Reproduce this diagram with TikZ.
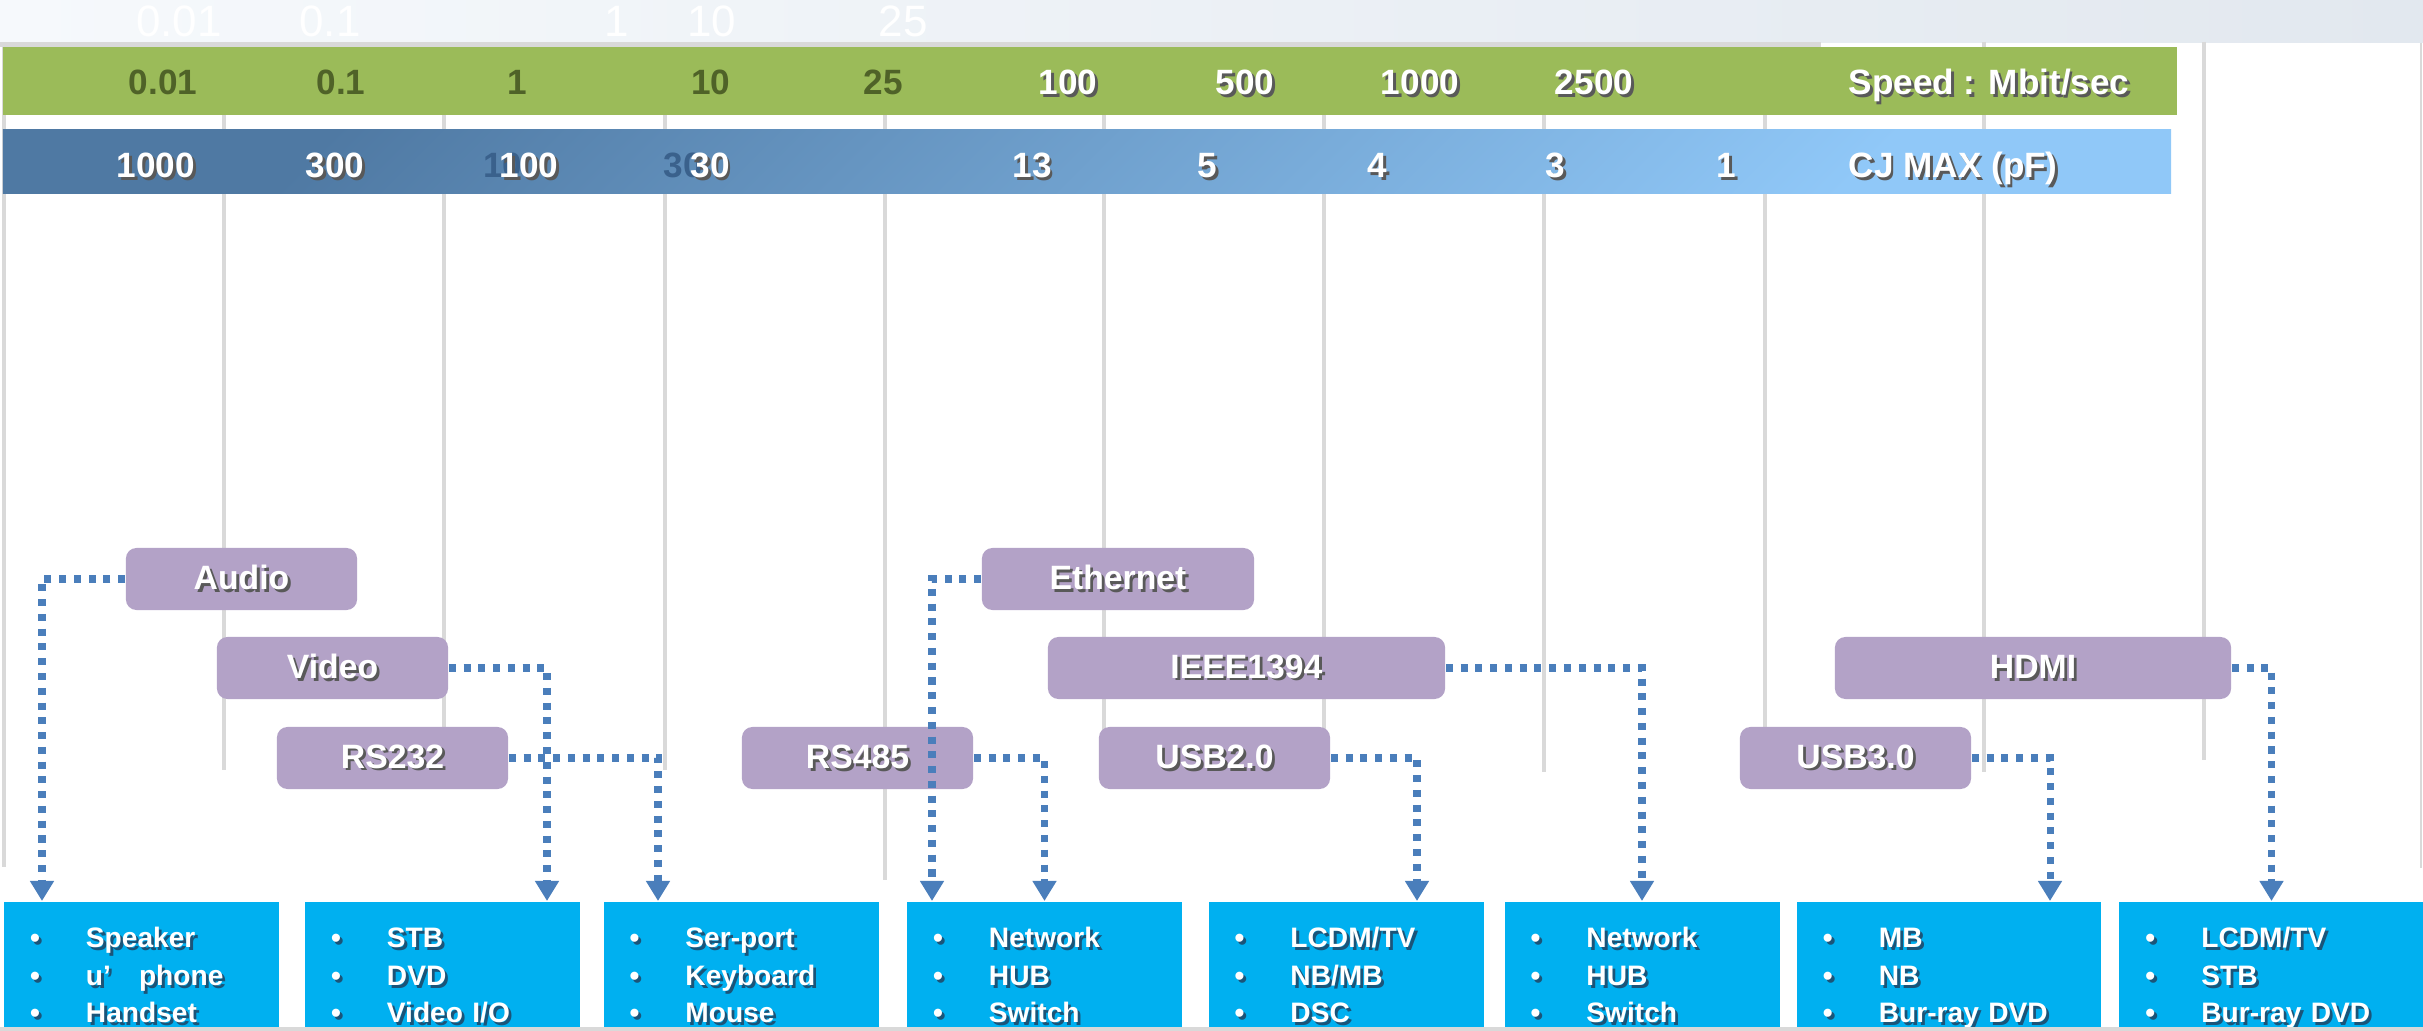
\documentclass[tikz,border=0pt]{standalone}
\usepackage{fontspec}
\setmainfont{Liberation Sans}
\usetikzlibrary{arrows.meta}

\definecolor{bandL}{HTML}{F6F9FC}
\definecolor{bandR}{HTML}{E2E8EF}
\definecolor{lineGray}{HTML}{D9D9D9}
\definecolor{barGreen}{HTML}{9BBB59}
\definecolor{barOlive}{HTML}{4F6228}
\definecolor{barBlueT}{HTML}{4F79A3}
\definecolor{barBlueB}{HTML}{90C8F8}
\definecolor{ghostBlue}{HTML}{3A618C}
\definecolor{boxPurple}{HTML}{B3A2C7}
\definecolor{boxCyan}{HTML}{00B0F0}
\definecolor{linkBlue}{HTML}{4A7EBB}
\definecolor{shadeBlue}{HTML}{1B5478}

% text with a small drop shadow
\newcommand{\shtxt}[2][black!65]{\makebox[0pt][l]{\hspace{0.8pt}\raisebox{-0.8pt}{\textcolor{#1}{#2}}}#2}
\newcommand{\devitem}[1]{\makebox[15.9pt][l]{\shtxt[shadeBlue]{\textbullet}}\shtxt[shadeBlue]{#1}\strut}

\begin{document}
\begin{tikzpicture}[x=0.01cm,y=-0.01cm,
  gline/.style={draw=lineGray,line width=1.4pt},
  barnum/.style={inner sep=0pt,text height=7.2pt,text depth=0pt,text=white,font=\fontsize{10}{12}\selectfont\bfseries},
  ghostnum/.style={inner sep=0pt,text height=9pt,text depth=0pt,text=white,font=\fontsize{12.5}{14}\selectfont},
  pbox/.style={fill=boxPurple,rounded corners=3pt,text=white,minimum height=0.62cm,inner sep=0pt,font=\fontsize{9.6}{11}\selectfont\bfseries},
  ibox/.style={fill=boxCyan,text=white,anchor=north,minimum height=1.52cm,inner xsep=7.4pt,inner ysep=0pt,text width=#1,align=left,font=\fontsize{8}{10.7}\selectfont\bfseries},
  link/.style={draw=linkBlue,line width=2pt,dash pattern=on 2pt off 2.2pt,-{Triangle[width=6.5pt,length=5.7pt]}}]
\useasboundingbox (0,0) rectangle (2423,1031);

% background band and grid
\shade[left color=bandL,right color=bandR] (0,0) rectangle (2423,43);
\fill[lineGray] (0,42) rectangle (1821,47);
\foreach \xx/\yy in {4/867,224/770,444/760,665/770,885/880,1104/760,1324/760,1544/772,1765/760,1984/772,2204/760}
  \draw[gline] (\xx,42) -- (\xx,\yy);
\draw[lineGray,line width=0.5pt] (2421,43) -- (2421,868);
\foreach \v/\xx in {0.01/179,0.1/330,1/617,10/712,25/903}
  \node[ghostnum] (t\xx) at (\xx,21) {\v};

% speed bar
\fill[barGreen] (3,47) rectangle (2177,115);
\foreach \v/\xx in {0.01/163,0.1/341,1/517,10/711,25/883}
  \node[barnum,text=barOlive] (s\xx) at (\xx,82) {\v};
\foreach \v/\xx in {100/1068,500/1245,1000/1420,2500/1594}
  \node[barnum] (s\xx) at (\xx,82) {\shtxt{\v}};
\node[barnum,anchor=west] (speed) at (1848,82) {\shtxt{Speed : Mbit/sec}};

% capacitance bar
\shade[top color=barBlueT,bottom color=barBlueB,shading angle=45] (3,130) rectangle (2171,194);
\node[barnum,text=ghostBlue] (c10) at (503,165) {10};
\node[barnum,text=ghostBlue] (c30) at (683,165) {30};
\foreach \v/\xx in {1000/156,300/335,100/529,30/710,13/1032,5/1207,4/1377,3/1555,1/1726}
  \node[barnum] (c\xx) at (\xx,165) {\shtxt{\v}};
\node[barnum,anchor=west] (cj) at (1848,165) {\shtxt{CJ MAX (pF)}};

% interfaces
\node[pbox,minimum width=2.31cm] (audio) at (241.5,579) {\shtxt{Audio}};
\node[pbox,minimum width=2.31cm] (video) at (332.5,668) {\shtxt{Video}};
\node[pbox,minimum width=2.31cm] (rsa) at (392.5,758) {\shtxt{RS232}};
\node[pbox,minimum width=2.31cm] (rsb) at (857.5,758) {\shtxt{RS485}};
\node[pbox,minimum width=2.72cm] (eth) at (1118,579) {\shtxt{Ethernet}};
\node[pbox,minimum width=3.97cm] (ieee) at (1246.5,668) {\shtxt{IEEE1394}};
\node[pbox,minimum width=2.31cm] (usbb) at (1214.5,758) {\shtxt{USB2.0}};
\node[pbox,minimum width=2.31cm] (usbc) at (1855.5,758) {\shtxt{USB3.0}};
\node[pbox,minimum width=3.96cm] (hdmi) at (2033,668) {\shtxt{HDMI}};

% applications
\node[ibox=63.4pt] (spk) at (141.5,901) {\devitem{Speaker}\\\devitem{u’\quad phone}\\\devitem{Handset}};
\node[ibox=63.4pt] (stb) at (442.5,901) {\devitem{STB}\\\devitem{DVD}\\\devitem{Video I/O}};
\node[ibox=63.4pt] (ser) at (741,901) {\devitem{Ser-port}\\\devitem{Keyboard}\\\devitem{Mouse}};
\node[ibox=63.4pt] (net) at (1044.5,901) {\devitem{Network}\\\devitem{HUB}\\\devitem{Switch}};
\node[ibox=63.4pt] (lcd) at (1346,901) {\devitem{LCDM/TV}\\\devitem{NB/MB}\\\devitem{DSC}};
\node[ibox=63.4pt] (lan) at (1642,901) {\devitem{Network}\\\devitem{HUB}\\\devitem{Switch}};
\node[ibox=71.7pt] (mb) at (1949,901) {\devitem{MB}\\\devitem{NB}\\\devitem{Bur-ray DVD}};
\node[ibox=71.7pt] (tv) at (2271.5,901) {\devitem{LCDM/TV}\\\devitem{STB}\\\devitem{Bur-ray DVD}};

% links
\draw[link] (audio.west) -| (42,0 |- spk.north);
\draw[link] (video.east) -| (547,0 |- stb.north);
\draw[link] (rsa.east) -| (658,0 |- ser.north);
\draw[link] (rsb.east) -| (net.north);
\draw[link] (eth.west) -| (932,0 |- net.north);
\draw[link] (ieee.east) -| (lan.north);
\draw[link] (usbb.east) -| (1417,0 |- lcd.north);
\draw[link] (usbc.east) -| (2050,0 |- mb.north);
\draw[link] (hdmi.east) -| (tv.north);

\fill[lineGray] (0,1027) rectangle (2423,1031);
\end{tikzpicture}
\end{document}
